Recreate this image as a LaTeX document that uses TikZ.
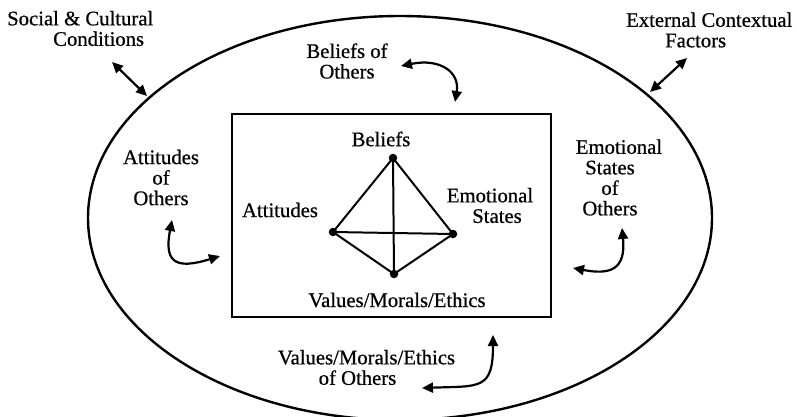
\documentclass[tikz,border=0pt]{standalone}
\usepackage{fontspec}
\setmainfont{Liberation Serif}[FakeBold=0.6]
\usetikzlibrary{arrows.meta}
\begin{document}
\begin{tikzpicture}[x=1pt,y=-1pt,
  lbl/.style={inner sep=0pt, align=center, font=\fontsize{20.7}{20.5}\selectfont},
  dot/.style={circle, fill=black, inner sep=0pt, minimum size=8.5pt},
  link/.style={line width=2.2pt, {Triangle[length=11pt,width=10pt]}-{Triangle[length=11pt,width=10pt]}},
  tedge/.style={line width=2pt, line join=round}
]
\useasboundingbox (0,0) rectangle (797,416);
\clip (0,0) rectangle (797,416);
\fill[white] (0,0) rectangle (797,416);
% outer ellipse
\draw[line width=2.4pt] (400,218) ellipse [x radius=312, y radius=202];
% inner box
\node[draw, line width=2.2pt, minimum width=319pt, minimum height=203pt, inner sep=0pt] (box) at (391.5,215.5) {};
% outer labels
\node[lbl, align=left, anchor=west] (soc) at (7,28.5) {Social \& Cultural\\\hspace*{46pt}Conditions};
\node[lbl, align=left, anchor=west] (ext) at (626,30) {External Contextual\\\hspace*{39pt}Factors};
\node[lbl] (bo) at (347,61) {Beliefs of\\Others};
\node[lbl] (ao) at (161,177.5) {Attitudes\\of\\Others};
\node[lbl] (eo) at (610,177.5) {\rule{18pt}{0pt}Emotional\\States\\of\\Others};
\node[lbl] (vo) at (366.5,367.5) {Values/Morals/Ethics\\of Others\rule{18pt}{0pt}};
% inner labels
\node[lbl] (lb) at (381,139) {Beliefs};
\node[lbl] (la) at (280,210) {Attitudes};
\node[lbl] (le) at (490,205.5) {Emotional\\\rule{14pt}{0pt}States};
\node[lbl] (lv) at (397,300) {Values/Morals/Ethics};
% tetrahedron
\node[dot] (B) at (393,158) {};
\node[dot] (A) at (333,232) {};
\node[dot] (E) at (453,234) {};
\node[dot] (V) at (394,274) {};
\draw[tedge] (B.center) -- (A.center) -- (V.center) -- (E.center) -- (B.center) -- (V.center);
\draw[tedge] (A.center) -- (E.center);
% arrows
\coordinate (s1) at (112,62); \coordinate (s2) at (147,96);
\draw[link] (s1) -- (s2);
\coordinate (x1) at (687,58); \coordinate (x2) at (650,92);
\draw[link] (x1) -- (x2);
\coordinate (b1) at (401,66); \coordinate (b2) at (455,102);
\draw[link] (b1) .. controls (440,58) and (460,72) .. (b2);
\coordinate (a1) at (172,220); \coordinate (a2) at (220,256);
\draw[link] (a1) .. controls (164,262) and (175,270) .. (a2);
\coordinate (e1) at (622,228); \coordinate (e2) at (573,268);
\draw[link] (e1) .. controls (626,270) and (610,275) .. (e2);
\coordinate (v1) at (493,335); \coordinate (v2) at (422,388);
\draw[link] (v1) .. controls (493,390) and (480,386) .. (v2);
\end{tikzpicture}
\end{document}
